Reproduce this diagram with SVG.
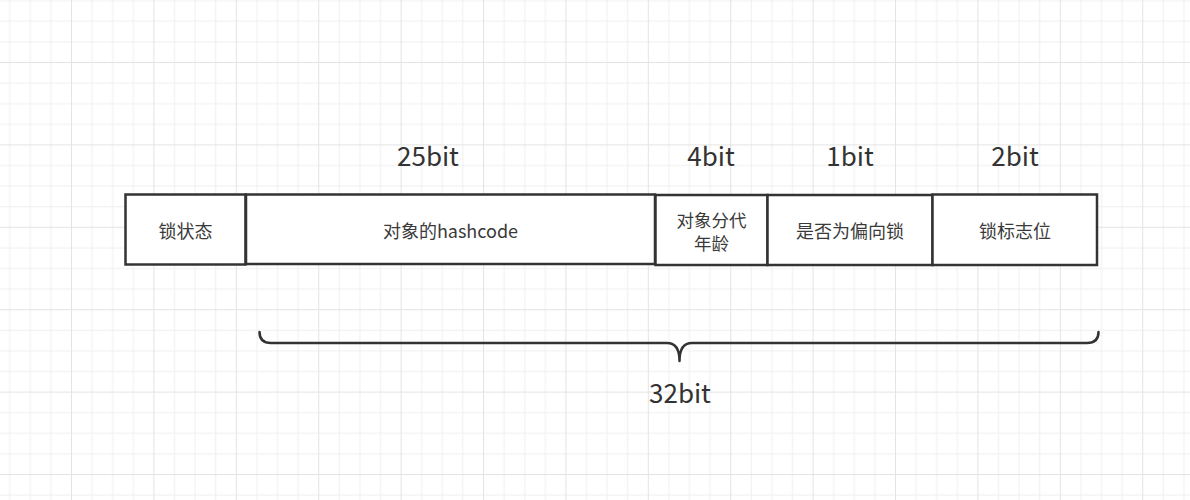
<svg xmlns="http://www.w3.org/2000/svg" width="1190" height="500" viewBox="0 0 1190 500">
<style>
.box{fill:#ffffff;stroke:#333333;stroke-width:2.5}
.t{font-family:"Noto Sans CJK SC","Microsoft YaHei",sans-serif;font-size:18px;fill:#3a3a3a;text-anchor:middle;dominant-baseline:central}
.t2{font-size:17.5px}
.big{font-family:"Noto Sans CJK SC","Microsoft YaHei",sans-serif;font-size:26px;fill:#333333;text-anchor:middle}
.brace{fill:none;stroke:#333333;stroke-width:2.5;stroke-linecap:round;stroke-linejoin:round}
</style>
<defs>
<pattern id="grid" patternUnits="userSpaceOnUse" x="71" y="62" width="82.4" height="82.4">
<rect x="0" y="0" width="82.4" height="82.4" fill="#ffffff"/>
<g fill="#f0f0f0">
<rect x="20.6" y="0" width="1" height="82.4"/>
<rect x="41.2" y="0" width="1" height="82.4"/>
<rect x="61.8" y="0" width="1" height="82.4"/>
<rect x="0" y="20.6" width="82.4" height="1"/>
<rect x="0" y="41.2" width="82.4" height="1"/>
<rect x="0" y="61.8" width="82.4" height="1"/>
</g>
<g fill="#e4e4e4">
<rect x="0" y="0" width="1" height="82.4"/>
<rect x="0" y="0" width="82.4" height="1"/>
</g>
</pattern>
</defs>
<rect x="0" y="0" width="1190" height="500" fill="url(#grid)"/>

<g id="label-25bit"><text class="big" x="428" y="166">25bit</text></g>
<g id="label-4bit"><text class="big" x="711" y="166">4bit</text></g>
<g id="label-1bit"><text class="big" x="850" y="166">1bit</text></g>
<g id="label-2bit"><text class="big" x="1015" y="166">2bit</text></g>

<g id="node-lockstate">
<rect class="box" x="125.5" y="194.5" width="120" height="70"/>
<text class="t" x="185.5" y="230">锁状态</text>
</g>
<g id="node-hashcode">
<rect class="box" x="246" y="194.5" width="409" height="69.5"/>
<text class="t" x="450.5" y="230">对象的hashcode</text>
</g>
<g id="node-age">
<rect class="box" x="655.5" y="195" width="112" height="70"/>
<text class="t t2" x="711.5" y="219">对象分代<tspan x="711.5" dy="23">年龄</tspan></text>
</g>
<g id="node-biased">
<rect class="box" x="767.5" y="195" width="165" height="70"/>
<text class="t" x="850" y="230">是否为偏向锁</text>
</g>
<g id="node-flag">
<rect class="box" x="932.5" y="194.5" width="164.5" height="70.5"/>
<text class="t" x="1015" y="230">锁标志位</text>
</g>

<g id="connectors">
<path class="brace" d="M259.5,332 Q259.5,343 271,343 L667,343 Q679.5,343 679.5,361 Q679.5,343 692,343 L1087,343 Q1098.5,343 1098.5,332"/>
</g>
<g id="label-32bit"><text class="big" x="680" y="403">32bit</text></g>
</svg>
